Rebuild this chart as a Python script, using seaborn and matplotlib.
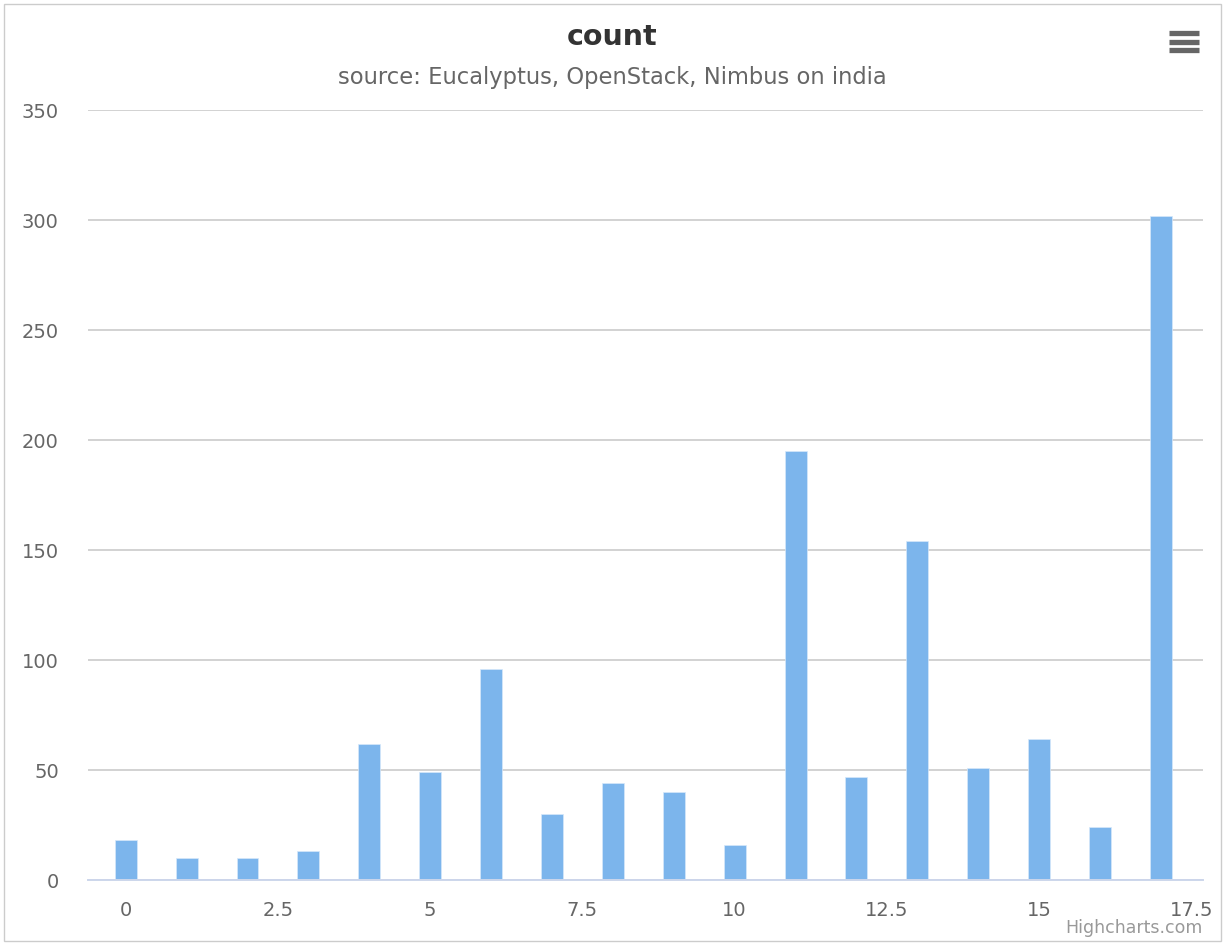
# count per bin, Highcharts-style column chart
import pandas as pd
import matplotlib
matplotlib.use("Agg")
import matplotlib.pyplot as plt
from matplotlib.lines import Line2D
from matplotlib.patches import Rectangle
from matplotlib.ticker import FuncFormatter
import seaborn as sns

# Data
bins = [0, 1, 2, 3, 4, 5, 6, 7, 8, 9, 10, 11, 12, 13, 14, 15, 16, 17]
counts = [18, 10, 10, 13, 62, 49, 96, 30, 44, 40, 16, 195, 47, 154, 51, 64, 24, 302]
x_ticks = [0, 2.5, 5, 7.5, 10, 12.5, 15, 17.5]
y_ticks = [0, 50, 100, 150, 200, 250, 300, 350]

df = pd.DataFrame({"bin": bins, "count": counts})

sns.set_style("white")
plt.rcParams["font.family"] = ["DejaVu Sans"]

fig = plt.figure(figsize=(12.25, 9.43), dpi=100)
ax = fig.add_axes([0.0718, 0.0668, 0.9102, 0.8165])

sns.barplot(
    data=df,
    x="bin",
    y="count",
    native_scale=True,
    width=0.36,
    color="#7cb5ec",
    saturation=1,
    edgecolor="#d6e8fa",
    linewidth=0.5,
    ax=ax
)

ax.set_xlim(-0.62, 17.69)
ax.set_ylim(0, 350)
ax.set_xticks(x_ticks)
ax.set_yticks(y_ticks)
ax.xaxis.set_major_formatter(FuncFormatter(lambda v, p: f"{v:g}"))
ax.set_xlabel("")
ax.set_ylabel("")

ax.yaxis.grid(True, color="#cbcbcb", linewidth=1.2)
ax.set_axisbelow(True)
for s in ["left", "top", "right"]:
    ax.spines[s].set_visible(False)
ax.spines["bottom"].set_color("#ccd6eb")
ax.spines["bottom"].set_linewidth(1.4)
ax.spines["bottom"].set_zorder(5)

ax.tick_params(axis="x", length=11, width=1.2, color="#ccd6eb",
               labelsize=14, labelcolor="#666666", pad=4)
ax.tick_params(axis="y", length=0, labelsize=14, labelcolor="#666666", pad=21)

# Title and subtitle
fig.text(0.5, 0.961, "count", ha="center", va="center", fontsize=20.5,
         fontweight="bold", color="#333333")
fig.text(0.5, 0.918, "source: Eucalyptus, OpenStack, Nimbus on india",
         ha="center", va="center", fontsize=16.3, color="#666666")

# Credits
fig.text(0.982, 0.016, "Highcharts.com", ha="right", va="center",
         fontsize=12.5, color="#999999")

# Menu icon
for yy in [33, 41.5, 50]:
    fig.add_artist(Line2D([1169 / 1225, 1199 / 1225], [1 - yy / 943, 1 - yy / 943],
                          color="#666666", linewidth=3.8, solid_capstyle="butt"))

# Outer frame
fig.add_artist(Rectangle((3.5 / 1225, 2 / 943), 1217 / 1225, 937 / 943,
                         fill=False, edgecolor="#cccccc", linewidth=1))

plt.savefig("out.png", dpi=100)
